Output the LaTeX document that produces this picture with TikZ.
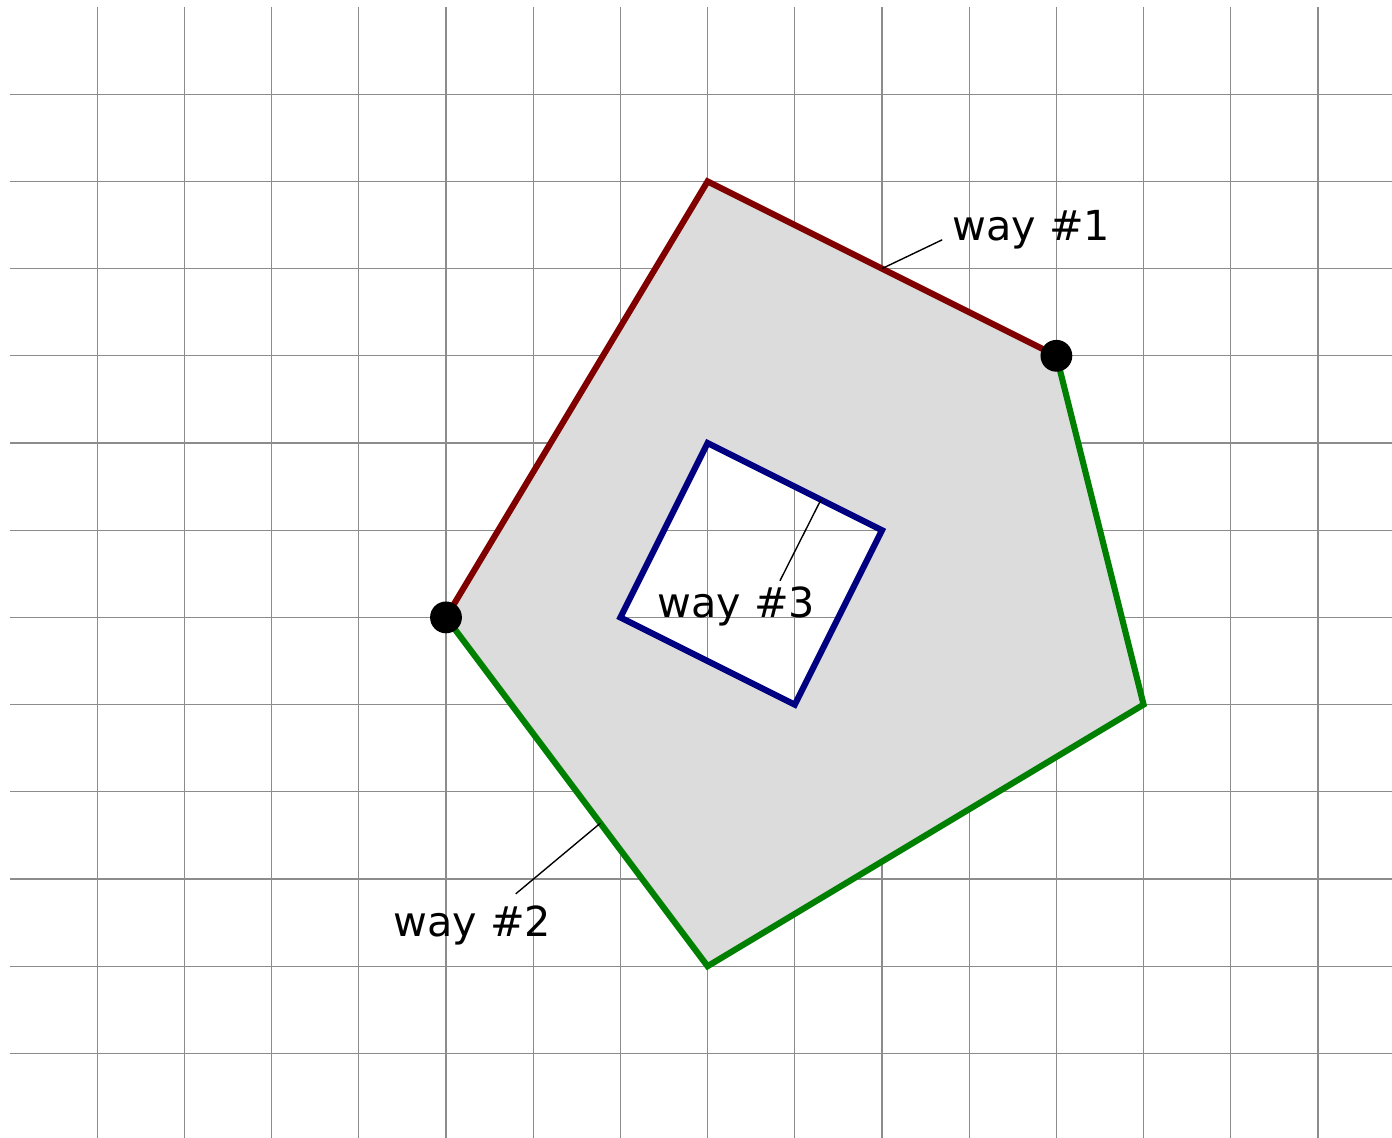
\documentclass[tikz,border=0pt]{standalone}
\usepackage{fontspec}
\setmainfont{DejaVu Sans}
\usetikzlibrary{calc}
\begin{document}
\begin{tikzpicture}[
  gridline/.style={draw=black!45, line width=0.4pt},
  wayline/.style={line width=2pt, line join=miter},
  leader/.style={draw=black, line width=0.45pt},
  waylabel/.style={inner sep=0pt, font=\fontsize{13.5}{16}\selectfont},
  dotnode/.style={circle, fill=black, minimum size=0.365cm, inner sep=0pt},
]
\useasboundingbox (-0.1147,0.0803) rectangle (15.849,-12.970);
\fill[white] (-0.1147,0.0803) rectangle (15.849,-12.970);
% grid
\foreach \y in {1,...,12} \draw[gridline] (0,-\y) -- (15.849,-\y);
\foreach \x in {1,...,15} \draw[gridline] (\x,0) -- (\x,-12.970);
% vertices
\coordinate (T) at (8,-2);
\coordinate (RT) at (12,-4);
\coordinate (R) at (13,-8);
\coordinate (B) at (8,-11);
\coordinate (L) at (5,-7);
\coordinate (I1) at (8,-5);
\coordinate (I2) at (10,-6);
\coordinate (I3) at (9,-8);
\coordinate (I4) at (7,-7);
% area
\fill[fill={rgb,255:red,220;green,220;blue,220}, even odd rule]
  (T) -- (RT) -- (R) -- (B) -- (L) -- cycle
  (I1) -- (I2) -- (I3) -- (I4) -- cycle;
% ways
\draw[wayline, draw={rgb,255:red,128;green,0;blue,0}] (L) -- (T) -- (RT);
\draw[wayline, draw={rgb,255:red,0;green,128;blue,0}] (RT) -- (R) -- (B) -- (L);
\draw[wayline, draw={rgb,255:red,0;green,0;blue,128}] (I1) -- (I2) -- (I3) -- (I4) -- cycle;
% nodes
\node[dotnode] (DL) at (L) {};
\node[dotnode] (DR) at (RT) {};
% labels
\coordinate (A1) at ($(T)!0.5!(RT)$);
\coordinate (E1) at (10.69,-2.67);
\node[waylabel, anchor=base west] (W1) at (10.80,-2.675) {way \#1};
\draw[leader] (A1) -- (E1);
\coordinate (A2) at ($(L)!0.59!(B)$);
\coordinate (E2) at (5.80,-10.17);
\node[waylabel, anchor=base] (W2) at (5.30,-10.66) {way \#2};
\draw[leader] (A2) -- (E2);
\coordinate (A3) at ($(I1)!0.65!(I2)$);
\coordinate (E3) at (8.83,-6.58);
\node[waylabel, anchor=base] (W3) at (8.33,-7.0) {way \#3};
\draw[leader] (A3) -- (E3);
\end{tikzpicture}
\end{document}
